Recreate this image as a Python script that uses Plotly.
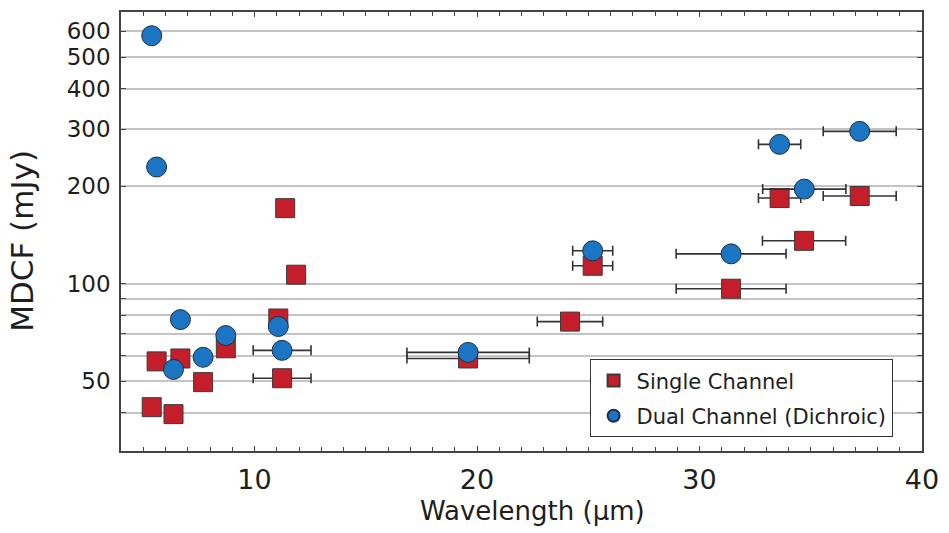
import plotly.graph_objects as go

# Single channel (red squares)
single_x = [5.38, 6.36, 5.6, 6.67, 7.69, 8.71, 11.07, 11.24, 11.38, 11.87, 19.6, 24.18, 25.2, 31.42, 34.7, 33.6, 37.2]
single_y = [41.6, 39.6, 57.6, 58.8, 49.7, 63.2, 78.1, 51.1, 171, 106.6, 58.8, 76.4, 113.6, 96.5, 135.6, 183.7, 186.4]
single_err = [0, 0, 0, 0, 0, 0, 0, 1.3, 0, 0, 2.75, 1.47, 0.9, 2.47, 1.87, 0.95, 1.64]

# Dual channel (blue circles)
dual_x = [5.38, 5.6, 6.67, 6.36, 7.69, 8.71, 11.07, 11.24, 19.6, 25.2, 31.42, 33.6, 34.71, 37.2]
dual_y = [582, 229, 77.5, 54.4, 59.3, 69.2, 73.8, 62.3, 61.4, 126.3, 123.6, 269, 195.8, 295]
dual_err = [0, 0, 0, 0, 0, 0, 0, 1.3, 2.75, 0.9, 2.47, 0.95, 1.87, 1.64]

y_grid = [40, 50, 60, 70, 80, 90, 100, 200, 300, 400, 500, 600]
y_labels = ["", "50", "", "", "", "", "100", "200", "300", "400", "500", "600"]
x_ticks = [10, 20, 30, 40]

FONT = "DejaVu Sans, Liberation Sans, Arial, sans-serif"
TXT = "#1e1e1e"
err_style = dict(type="data", symmetric=True, color="#333333", thickness=1.6, width=5)

fig = go.Figure()
fig.add_trace(go.Scatter(
    x=single_x, y=single_y, mode="markers", name="Single Channel", legendgroup="s",
    marker=dict(symbol="square", size=19, color="#C41E2A", line=dict(color="#3a3a3a", width=1)),
    error_x=dict(array=single_err, **err_style),
))
fig.add_trace(go.Scatter(
    x=dual_x, y=dual_y, mode="markers", name="Dual Channel (Dichroic)", legendgroup="d",
    marker=dict(symbol="circle", size=20, color="#1B75C2", line=dict(color="#1f2f45", width=1)),
    error_x=dict(array=dual_err, **err_style),
))

fig.update_layout(
    width=949, height=533,
    margin=dict(l=121, r=21, t=10, b=82),
    paper_bgcolor="white", plot_bgcolor="white",
    font=dict(family=FONT, color=TXT),
    showlegend=True,
    legend=dict(
        x=0.585, y=0.209, xanchor="left", yanchor="top",
        bgcolor="white", bordercolor="#333333", borderwidth=1,
        font=dict(size=21, family=FONT, color=TXT),
        itemsizing="constant", itemwidth=36, tracegroupgap=5,
    ),
    annotations=[
        dict(text="Wavelength (µm)", xref="paper", yref="paper", x=0.514, y=-0.136,
             xanchor="center", yanchor="middle", showarrow=False,
             font=dict(size=26, family=FONT, color=TXT)),
        dict(text="MDCF (mJy)", xref="paper", yref="paper", x=-0.124, y=0.478,
             xanchor="center", yanchor="middle", showarrow=False, textangle=-90,
             font=dict(size=31, family=FONT, color=TXT)),
    ],
)
fig.update_xaxes(
    range=[4, 40], tickvals=x_ticks, ticks="inside", ticklen=5, tickcolor="#444",
    showline=True, linecolor="#444", linewidth=1.5, mirror="allticks",
    showgrid=False, zeroline=False,
    minor=dict(dtick=1, ticks="inside", ticklen=4, tickcolor="#444", showgrid=False),
    tickfont=dict(size=27), ticklabelstandoff=4,
)
fig.update_yaxes(
    type="log", range=[1.484, 2.838], tickvals=y_grid, ticktext=y_labels,
    ticks="inside", ticklen=5, tickcolor="#444",
    showline=True, linecolor="#444", linewidth=1.5, mirror="allticks",
    showgrid=True, gridcolor="#c4c4c4", gridwidth=1.5, zeroline=False,
    tickfont=dict(size=23), ticklabelstandoff=4,
)

fig.write_html("out.html")
